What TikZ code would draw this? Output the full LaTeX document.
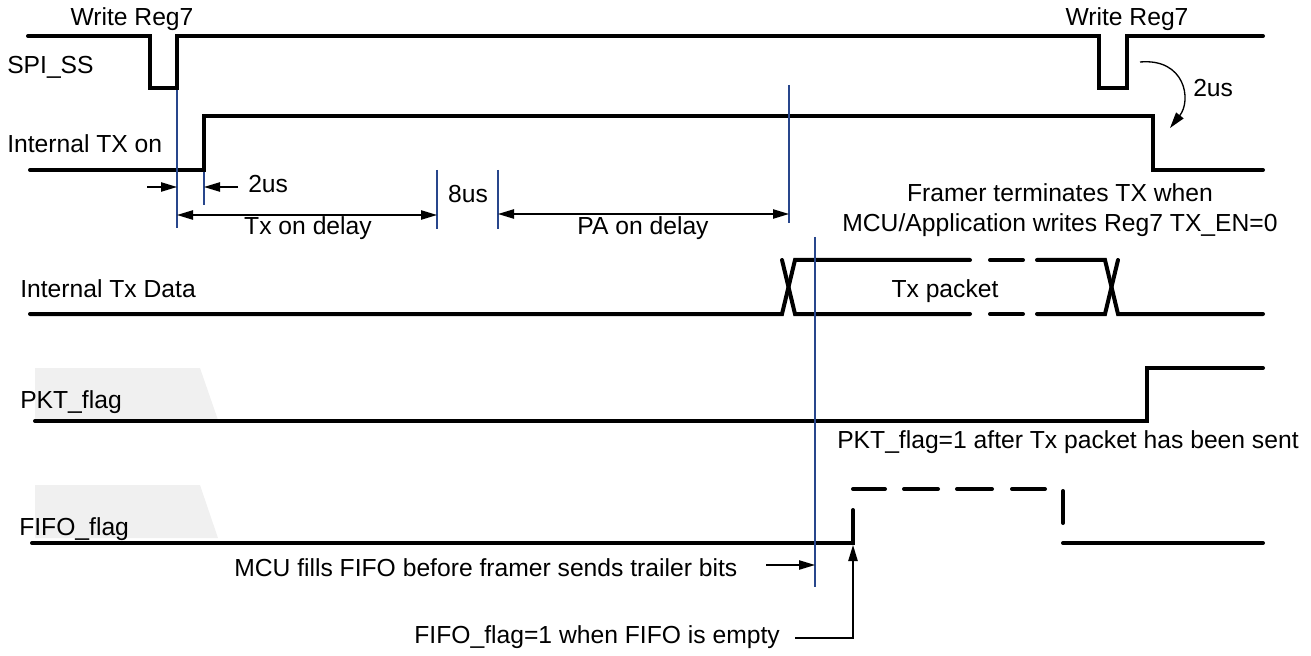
\documentclass[tikz,border=0pt]{standalone}
\usepackage{fontspec}
\setmainfont{Liberation Sans}
\usetikzlibrary{arrows.meta}
\definecolor{guideblue}{RGB}{40,70,140}
\definecolor{bggray}{RGB}{240,240,240}
\begin{document}
\begin{tikzpicture}[x=0.75pt,y=-0.75pt,
  sig/.style={line width=3pt, line cap=round, line join=miter},
  guide/.style={draw=guideblue, line width=0.8pt},
  tipA/.tip={Triangle[length=12pt,width=7pt]},
  dimarr/.style={line width=1pt, tipA-tipA},
  onearr/.style={line width=1pt, -tipA},
  lbl/.style={font=\fontsize{18.5}{22.5}\selectfont, inner sep=0pt}
]
\useasboundingbox (0,0) rectangle (1311,656);
% shaded backgrounds
\fill[bggray] (35,368) -- (200,368) -- (218,420) -- (35,420) -- cycle;
\fill[bggray] (35,485) -- (200,485) -- (218,538) -- (35,538) -- cycle;

% SPI_SS
\draw[sig] (28,36) -- (150,36) -- (150,88) -- (177,88) -- (177,36) -- (1099,36) -- (1099,88) -- (1127,88) -- (1127,36) -- (1263,36);
% Internal TX on
\draw[sig] (30,170) -- (204,170) -- (204,116) -- (1153,116) -- (1153,170) -- (1263,170);
% Internal Tx Data
\draw[sig] (30,314) -- (782,314) -- (795,260) -- (970,260);
\draw[sig] (782,260) -- (795,314) -- (970,314);
\draw[sig] (990,260) -- (1023,260);
\draw[sig] (990,314) -- (1023,314);
\draw[sig] (1037,260) -- (1105,260) -- (1118,314) -- (1263,314);
\draw[sig] (1037,314) -- (1105,314) -- (1118,260);
% PKT_flag
\draw[sig] (35,421) -- (1147,421) -- (1147,368) -- (1263,368);
% FIFO_flag
\draw[sig] (32,543) -- (853,543) -- (853,510);
\draw[sig] (853,489) -- (885,489);
\draw[sig] (904,489) -- (938,489);
\draw[sig] (957,489) -- (992,489);
\draw[sig] (1012,489) -- (1045,489);
\draw[sig] (1063,491) -- (1063,523);
\draw[sig] (1063,543) -- (1263,543);

% guide lines
\coordinate (g1t) at (177,90);  \coordinate (g1b) at (177,228);
\coordinate (g2t) at (204,172); \coordinate (g2b) at (204,205);
\coordinate (g3t) at (437,170); \coordinate (g3b) at (437,229);
\coordinate (g4t) at (498,170); \coordinate (g4b) at (498,229);
\coordinate (g5t) at (789,85);  \coordinate (g5b) at (789,223);
\coordinate (g6t) at (815,237); \coordinate (g6b) at (815,587);
\foreach \a in {1,...,6} { \draw[guide] (g\a t) -- (g\a b); }

% dimension arrows
\coordinate (a1s) at (147,187); \coordinate (a1e) at (177,187);
\coordinate (a2s) at (238,187); \coordinate (a2e) at (204,187);
\draw[onearr] (a1s) -- (a1e);
\draw[onearr] (a2s) -- (a2e);
\draw[dimarr] (177,215) -- (437,215);
\draw[dimarr] (498,214) -- (789,214);
\coordinate (mcuS) at (766,565); \coordinate (mcuE) at (815,565);
\draw[onearr] (mcuS) -- (mcuE);
\coordinate (ffS) at (795,638); \coordinate (ffE) at (853,545);
\draw[onearr] (ffS) -| (ffE);
\coordinate (cS) at (1140,62); \coordinate (cE) at (1170,128);
\draw[onearr] (cS) .. controls (1185,58) and (1192,100) .. (cE);

% labels
\node[lbl, anchor=base] (wr1) at (132,26) {Write Reg7};
\node[lbl, anchor=base] (wr2) at (1127,26) {Write Reg7};
\node[lbl, anchor=base west] (spi) at (7,74) {SPI\_SS};
\node[lbl, anchor=base west] (txon) at (7,153) {Internal TX on};
\node[lbl, anchor=base west] (us2a) at (248,193) {2us};
\node[lbl, anchor=base] (txd) at (308,234) {Tx on delay};
\node[lbl, anchor=base] (us8) at (468,203) {8us};
\node[lbl, anchor=base] (pad) at (643,235) {PA on delay};
\node[lbl, anchor=base] (fr1) at (1060,202) {Framer terminates TX when};
\node[lbl, anchor=base] (fr2) at (1060,232) {MCU/Application writes Reg7 TX\_EN=0};
\node[lbl, anchor=base west] (us2b) at (1193,97) {2us};
\node[lbl, anchor=base west] (itd) at (20,297) {Internal Tx Data};
\node[lbl, anchor=base] (txp) at (945,297) {Tx packet};
\node[lbl, anchor=base west] (pkt) at (20,408) {PKT\_flag};
\node[lbl, anchor=base west] (pktn) at (837,448) {PKT\_flag=1 after Tx packet has been sent};
\node[lbl, anchor=base west] (fifo) at (19,535) {FIFO\_flag};
\node[lbl, anchor=base west] (mcu) at (234,576) {MCU fills FIFO before framer sends trailer bits};
\node[lbl, anchor=base east] (ffn) at (780,643) {FIFO\_flag=1 when FIFO is empty};
\end{tikzpicture}
\end{document}
